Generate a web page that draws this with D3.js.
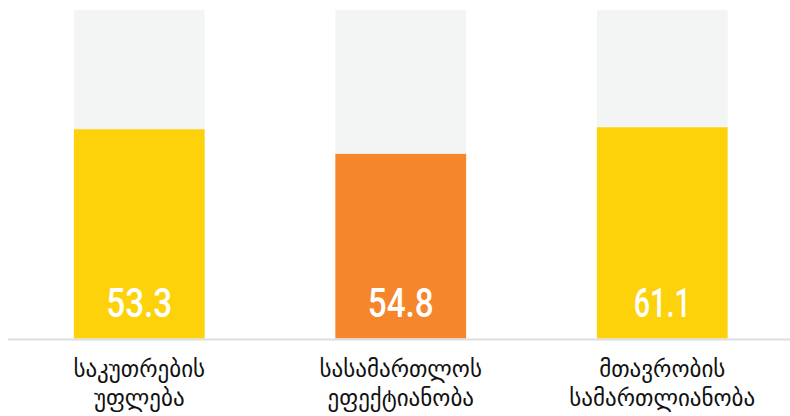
<!DOCTYPE html>
<html><head><meta charset="utf-8">
<script src="https://cdn.jsdelivr.net/npm/d3@7"></script>
<style>html,body{margin:0;padding:0;background:#fff;overflow:hidden}</style>
</head><body>
<svg id="c" width="790" height="416"></svg>
<script>
const categories = [["საკუთრების","უფლება"],["სასამართლოს","ეფექტიანობა"],["მთავრობის","სამართლიანობა"]];
const scores = [53.3, 54.8, 61.1];
const barHeights = [63.7, 56.2, 64.3];
const maxValue = 100;
const colors = ["#FED20B", "#F5862B", "#FED20B"];

const svg = d3.select("#c");
const x = d3.scaleBand().domain(d3.range(categories.length)).range([8.5, 793]).paddingInner(0.5).paddingOuter(0.25);
const y = d3.scaleLinear().domain([0, maxValue]).range([338.5, 10]);

svg.selectAll("rect.bg").data(categories).join("rect").attr("class","bg")
  .attr("x",(d,i)=>x(i)).attr("width",x.bandwidth())
  .attr("y",y(maxValue)).attr("height",y(0)-y(maxValue)).attr("fill","#F3F4F4");

svg.selectAll("rect.val").data(barHeights).join("rect").attr("class","val")
  .attr("x",(d,i)=>x(i)).attr("width",x.bandwidth())
  .attr("y",d=>y(d)).attr("height",d=>y(0)-y(d)).attr("fill",(d,i)=>colors[i]);

svg.append("rect").attr("x",8).attr("y",338.5).attr("width",782).attr("height",2).attr("fill","#DDDDDD");

svg.selectAll("text.v").data(scores).join("text").attr("class","v")
  .attr("x",(d,i)=>x(i)+x.bandwidth()/2).attr("y",317)
  .attr("text-anchor","middle").attr("fill","#fff")
  .attr("textLength", d => d.toFixed(1).startsWith("61") ? 57 : 66)
  .attr("lengthAdjust","spacingAndGlyphs")
  .style("font-family","Roboto, sans-serif")
  .style("font-weight","500").style("font-size","40px")
  .text(d=>d.toFixed(1));

const lab = svg.selectAll("text.c").data(categories).join("text").attr("class","c")
  .attr("text-anchor","middle").attr("fill","#111")
  .style("font-family","'DejaVu Sans', sans-serif").style("font-size","23px");
lab.selectAll("tspan").data((d,i)=>d.map(t=>({t,i}))).join("tspan")
  .attr("x",d=>x(d.i)+x.bandwidth()/2)
  .attr("y",(d,j)=>377+j*29)
  .text(d=>d.t);
</script>
</body></html>
